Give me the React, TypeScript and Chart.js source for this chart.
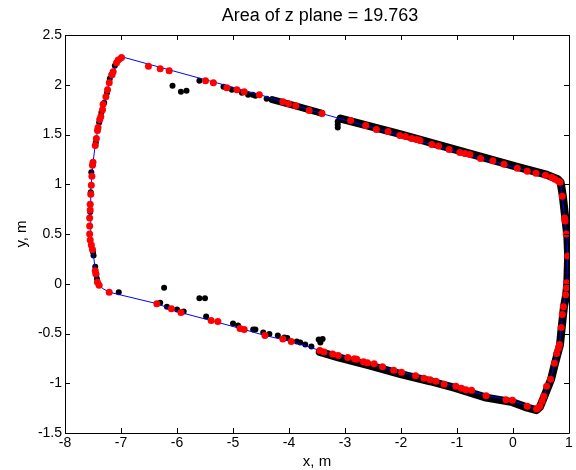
import React, { useEffect, useRef } from "react";
import { Chart, registerables } from "chart.js";

Chart.register(...registerables);

const titleText = "Area of z plane = 19.763";
const xTitle = "x, m";
const yTitle = "y, m";

const xTickValues = [-8, -7, -6, -5, -4, -3, -2, -1, 0, 1];
const xTickLabels = ["-8", "-7", "-6", "-5", "-4", "-3", "-2", "-1", "0", "1"];
const yTickValues = [-1.5, -1, -0.5, 0, 0.5, 1, 1.5, 2, 2.5];
const yTickLabels = ["-1.5", "-1", "-0.5", "0", "0.5", "1", "1.5", "2", "2.5"];

// blue boundary polygon (closed)
const bluePath: [number, number][] = [
  [-6.98, 2.28], [-4.52, 1.9], [-3.41, 1.71], [-2.02, 1.49], [-1.14, 1.345], [0.077, 1.16],
  [0.58, 1.09], [0.75, 1.05], [0.84, 1.02],
  [0.88, 0.88], [0.93, 0.63], [0.96, 0.48], [0.977, 0.28], [0.96, 0.01], [0.94, -0.11],
  [0.9, -0.23], [0.86, -0.44], [0.83, -0.61], [0.74, -0.8], [0.67, -0.96], [0.55, -1.13],
  [0.48, -1.23], [0.42, -1.26],
  [0.255, -1.23], [-0.01, -1.17], [-0.48, -1.125], [-1.02, -1.03], [-1.48, -0.96], [-1.99, -0.89],
  [-2.6, -0.795], [-3.12, -0.72], [-3.45, -0.67], [-3.96, -0.58], [-4.43, -0.52], [-4.8, -0.46],
  [-5.39, -0.37], [-5.93, -0.29], [-6.36, -0.2], [-7.21, -0.085], [-7.32, -0.05],
  [-7.39, -0.015], [-7.42, 0.016], [-7.46, 0.13], [-7.49, 0.285], [-7.51, 0.345], [-7.55, 0.6],
  [-7.54, 0.95], [-7.52, 1.08], [-7.5, 1.22], [-7.46, 1.39], [-7.41, 1.57], [-7.33, 1.75],
  [-7.27, 1.88], [-7.21, 2.02], [-7.14, 2.13], [-7.05, 2.25], [-6.98, 2.28],
];

// dense black bands of measured points
const blackBandTop: [number, number][] = [
  [-4.3, 1.85], [-3.9, 1.79], [-3.42, 1.715],
];
const blackBandMain: [number, number][] = [
  [-3.08, 1.66], [-2.02, 1.505], [-1.14, 1.365], [0.077, 1.175], [0.58, 1.1], [0.8, 1.05],
  [0.85, 1.02], [0.89, 0.88], [0.94, 0.63], [0.97, 0.48], [0.985, 0.28], [0.97, 0.01],
  [0.95, -0.11], [0.91, -0.23], [0.87, -0.44], [0.84, -0.61], [0.75, -0.8], [0.68, -0.96],
  [0.56, -1.13], [0.48, -1.24], [0.42, -1.27],
  [0.255, -1.245], [-0.01, -1.19], [-0.48, -1.145], [-1.02, -1.05], [-1.48, -0.98],
  [-1.99, -0.91], [-2.6, -0.815], [-3.12, -0.74], [-3.45, -0.685],
];

// sparse black measured points
const blackPoints: [number, number][] = [
  [-7.02, 2.26], [-7.11, 2.19], [-7.17, 2.1], [-7.2, 2.06], [-7.25, 1.92], [-7.3, 1.82],
  [-7.35, 1.72], [-7.39, 1.62], [-7.45, 1.42], [-7.5, 1.2], [-7.53, 1.12], [-7.54, 0.92],
  [-7.55, 0.72], [-7.5, 0.32], [-7.49, 0.285], [-7.46, 0.17], [-7.44, 0.09], [-7.43, 0.05],
  [-5.6, 2.04], [-5.17, 1.98], [-5.02, 1.95], [-4.84, 1.92], [-4.73, 1.9], [-4.65, 1.9],
  [-4.6, 1.89], [-4.4, 1.86],
  [-6.08, 1.99], [-5.93, 1.93], [-5.83, 1.94], [-3.13, 1.57], [-3.13, 1.6], [-3.13, 1.63],
  [-7.04, -0.085], [-6.3, -0.19], [-6.18, -0.23], [-6.0, -0.26], [-5.88, -0.28], [-5.48, -0.33],
  [-5.0, -0.4], [-4.91, -0.42], [-4.6, -0.46], [-4.64, -0.46],
  [-6.23, -0.04], [-5.6, -0.145], [-5.5, -0.145], [-3.47, -0.56], [-3.4, -0.555], [-3.44, -0.59],
  [-4.46, -0.49], [-4.35, -0.505], [-4.2, -0.52], [-4.08, -0.54], [-4.03, -0.545],
  [-3.86, -0.58], [-3.8, -0.59], [-3.71, -0.61], [-3.6, -0.63],
];

// red measured points
const redPoints: [number, number][] = [
  [-6.99, 2.275], [-7.05, 2.25], [-7.08, 2.22], [-7.14, 2.13], [-7.16, 2.1], [-7.21, 2.02],
  [-7.24, 1.95], [-7.27, 1.88], [-7.32, 1.805], [-7.33, 1.75], [-7.36, 1.68], [-7.38, 1.65],
  [-7.41, 1.57], [-7.42, 1.54], [-7.44, 1.46], [-7.46, 1.39], [-7.5, 1.22], [-7.51, 1.19],
  [-7.52, 1.08],
  [-7.53, 0.99], [-7.54, 0.9], [-7.55, 0.8], [-7.55, 0.74], [-7.56, 0.66], [-7.56, 0.58],
  [-7.56, 0.5], [-7.55, 0.44], [-7.53, 0.39], [-7.51, 0.345], [-7.46, 0.13], [-7.45, 0.1],
  [-7.42, 0.016], [-7.39, -0.015], [-7.21, -0.085],
  [-6.51, 2.185], [-6.3, 2.16], [-6.14, 2.14], [-5.49, 2.04], [-5.35, 2.02], [-5.11, 1.97],
  [-4.93, 1.95], [-4.8, 1.93], [-4.53, 1.9], [-4.11, 1.83], [-4.01, 1.81], [-3.88, 1.79],
  [-3.64, 1.74], [-3.41, 1.71], [-2.9, 1.64], [-2.63, 1.59], [-2.44, 1.55], [-2.23, 1.53],
  [-2.02, 1.49], [-1.92, 1.48], [-1.81, 1.46], [-1.72, 1.45], [-1.66, 1.44], [-1.45, 1.4],
  [-1.33, 1.385], [-1.14, 1.35], [-0.95, 1.32], [-0.86, 1.31], [-0.77, 1.3], [-0.58, 1.26],
  [-0.36, 1.235], [-0.16, 1.2], [0.077, 1.16], [0.255, 1.13], [0.41, 1.11], [0.58, 1.09],
  [0.69, 1.07], [0.75, 1.05], [0.81, 1.03], [0.84, 1.02],
  [0.88, 0.88], [0.92, 0.66], [0.93, 0.63], [0.95, 0.5], [0.977, 0.28], [0.96, 0.01],
  [0.955, -0.04], [0.94, -0.11], [0.9, -0.23], [0.88, -0.31], [0.86, -0.44], [0.83, -0.61],
  [0.81, -0.65], [0.78, -0.7], [0.74, -0.8], [0.67, -0.96], [0.6, -1.03], [0.55, -1.13],
  [0.52, -1.18], [0.48, -1.23], [0.44, -1.25], [0.42, -1.26],
  [0.255, -1.23], [-0.01, -1.17], [-0.125, -1.165], [-0.48, -1.125], [-0.74, -1.07],
  [-0.84, -1.065], [-0.92, -1.05], [-1.02, -1.03], [-1.23, -1.01], [-1.375, -0.98],
  [-1.48, -0.965], [-1.59, -0.95], [-1.74, -0.925], [-1.99, -0.89], [-2.13, -0.87],
  [-2.33, -0.835], [-2.48, -0.805], [-2.6, -0.795], [-2.67, -0.785], [-2.79, -0.76],
  [-2.83, -0.755], [-2.95, -0.74], [-3.12, -0.72], [-3.22, -0.705], [-3.375, -0.685],
  [-3.45, -0.67], [-3.96, -0.58], [-4.11, -0.555], [-4.43, -0.52], [-4.8, -0.46],
  [-4.875, -0.45], [-5.27, -0.38], [-5.39, -0.37], [-5.93, -0.29], [-6.1, -0.25], [-6.36, -0.2],
];

const toXY = (arr: [number, number][]) => arr.map(([x, y]) => ({ x, y }));

const FONT = "'Liberation Sans', Arial, sans-serif";

const framePlugin = {
  id: "matlabFrame",
  afterDatasetsDraw(chart: any) {
    const { ctx, chartArea: a, scales } = chart;
    ctx.save();
    ctx.strokeStyle = "#000";
    ctx.lineWidth = 1;
    ctx.beginPath();
    ctx.rect(Math.round(a.left) + 0.5, Math.round(a.top) + 0.5, Math.round(a.right - a.left), Math.round(a.bottom - a.top));
    ctx.stroke();
    const tl = 5;
    ctx.beginPath();
    for (const v of xTickValues) {
      const px = Math.round(scales.x.getPixelForValue(v)) + 0.5;
      ctx.moveTo(px, a.bottom);
      ctx.lineTo(px, a.bottom - tl);
      ctx.moveTo(px, a.top);
      ctx.lineTo(px, a.top + tl);
    }
    for (const v of yTickValues) {
      const py = Math.round(scales.y.getPixelForValue(v)) + 0.5;
      ctx.moveTo(a.left, py);
      ctx.lineTo(a.left + tl, py);
      ctx.moveTo(a.right, py);
      ctx.lineTo(a.right - tl, py);
    }
    ctx.stroke();
    // titles
    ctx.fillStyle = "#000";
    ctx.textAlign = "center";
    ctx.textBaseline = "alphabetic";
    ctx.font = `18px ${FONT}`;
    ctx.fillText(titleText, (a.left + a.right) / 2 + 3, 21);
    ctx.font = `15px ${FONT}`;
    ctx.fillText(xTitle, (a.left + a.right) / 2, 466);
    ctx.translate(26, (a.top + a.bottom) / 2);
    ctx.rotate(-Math.PI / 2);
    ctx.fillText(yTitle, 0, 0);
    ctx.restore();
  },
};

export default function App() {
  const ref = useRef<HTMLCanvasElement | null>(null);
  useEffect(() => {
    if (!ref.current) return;
    const chart = new Chart(ref.current, {
      type: "scatter",
      data: {
        datasets: [
          {
            label: "red",
            data: toXY(redPoints),
            pointRadius: 3.5,
            pointBackgroundColor: "#ff0000",
            pointBorderWidth: 0,
            pointBorderColor: "#ff0000",
            showLine: false,
          },
          {
            label: "blue",
            data: toXY(bluePath),
            showLine: true,
            borderColor: "#0000ff",
            borderWidth: 1,
            pointRadius: 0,
            tension: 0,
          },
          {
            label: "bandMain",
            data: toXY(blackBandMain),
            showLine: true,
            borderColor: "#000",
            borderWidth: 8,
            borderJoinStyle: "round",
            borderCapStyle: "round",
            pointRadius: 0,
          },
          {
            label: "bandTop",
            data: toXY(blackBandTop),
            showLine: true,
            borderColor: "#000",
            borderWidth: 7,
            borderJoinStyle: "round",
            borderCapStyle: "round",
            pointRadius: 0,
          },
          {
            label: "black",
            data: toXY(blackPoints),
            pointRadius: 3,
            pointBackgroundColor: "#000",
            pointBorderWidth: 0,
            showLine: false,
          },
        ] as any,
      },
      options: {
        animation: false,
        responsive: false,
        layout: { padding: { left: 0, right: 7, top: 35, bottom: 0 } },
        plugins: { legend: { display: false }, title: { display: false }, tooltip: { enabled: false } },
        scales: {
          x: {
            type: "linear",
            min: -8,
            max: 1,
            afterBuildTicks: (s: any) => { s.ticks = xTickValues.map((v) => ({ value: v })); },
            afterFit: (s: any) => { s.height = 37; },
            grid: { display: false, drawTicks: false },
            border: { display: false },
            ticks: {
              padding: 2,
              color: "#000",
              font: { size: 14, family: FONT },
              maxRotation: 0,
              autoSkip: false,
              callback: (v: any) => xTickLabels[xTickValues.indexOf(Number(v))] ?? "",
            },
          },
          y: {
            type: "linear",
            min: -1.5,
            max: 2.5,
            afterBuildTicks: (s: any) => { s.ticks = yTickValues.map((v) => ({ value: v })); },
            afterFit: (s: any) => { s.width = 65; },
            grid: { display: false, drawTicks: false },
            border: { display: false },
            ticks: {
              padding: 3,
              color: "#000",
              font: { size: 14, family: FONT },
              autoSkip: false,
              callback: (v: any) => yTickLabels[yTickValues.indexOf(Number(v))] ?? "",
            },
          },
        },
      } as any,
      plugins: [framePlugin],
    });
    return () => chart.destroy();
  }, []);
  return (
    <div style={{ position: "absolute", left: 0, top: 0, width: 576, height: 470, background: "#fff" }}>
      <canvas ref={ref} width={576} height={470} style={{ display: "block" }} />
    </div>
  );
}
